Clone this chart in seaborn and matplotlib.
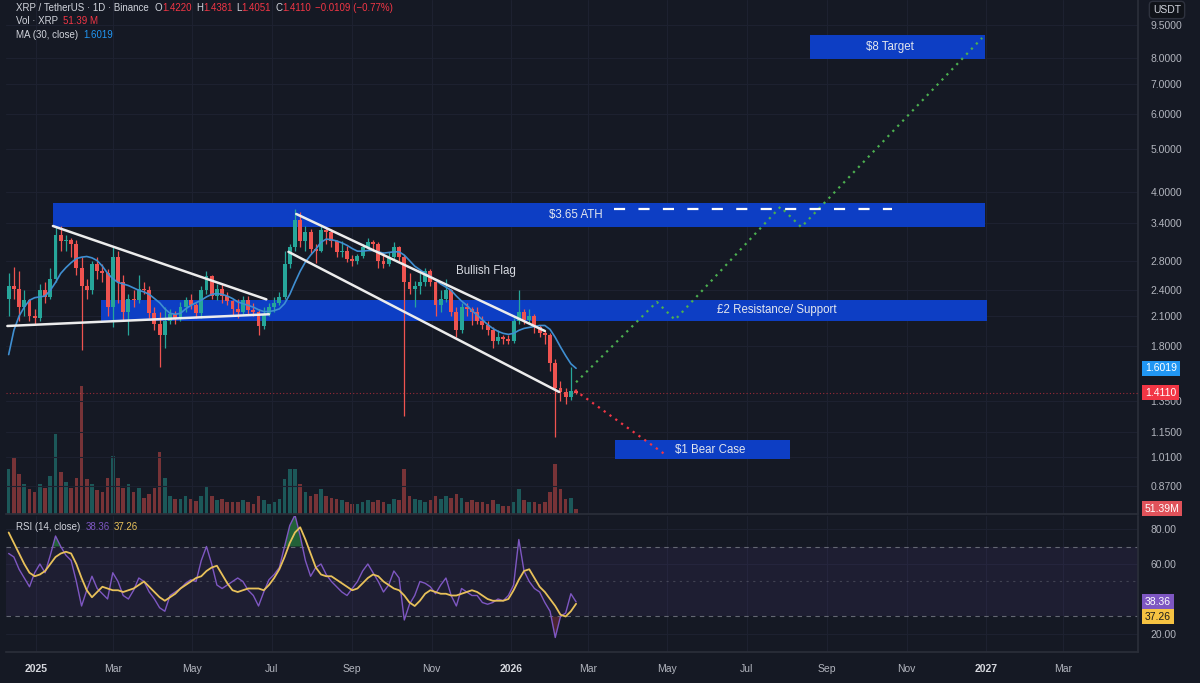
import numpy as np
import pandas as pd
import matplotlib
matplotlib.use('Agg')
import matplotlib.pyplot as plt
import matplotlib.dates as mdates
from matplotlib.patches import Rectangle
from matplotlib.ticker import NullLocator
import seaborn as sns

# ---------------- data ----------------
# 4-day candles, each date is the middle of its block
candle_start = '2024-12-11'
first_open = 2.30

closes = [2.45, 2.42, 2.20, 2.28, 2.10, 2.08, 2.40, 2.32, 2.55, 3.20,
          3.10, 3.12, 3.05, 2.70, 2.45, 2.40, 2.75, 2.65, 2.62, 2.20,
          2.85, 2.50, 2.15, 2.30, 2.28, 2.42, 2.40, 2.13, 2.02, 1.90,
          2.05, 2.12, 2.08, 2.20, 2.28, 2.22, 2.13, 2.40, 2.58, 2.33,
          2.42, 2.33, 2.27, 2.18, 2.15, 2.28, 2.17, 2.15, 1.99, 2.12,
          2.20, 2.25, 2.32, 2.75, 3.00, 3.45, 3.10, 3.25, 2.98, 2.95,
          3.28, 3.25, 3.10, 2.92, 2.95, 2.82, 2.80, 2.86, 3.00, 3.08,
          3.05, 2.80, 2.75, 2.85, 3.00, 2.85, 2.50, 2.42, 2.45, 2.50,
          2.65, 2.50, 2.22, 2.30, 2.40, 2.15, 1.95, 2.20, 2.18, 2.15,
          2.05, 2.00, 1.95, 1.85, 1.88, 1.86, 1.85, 2.05, 2.15, 2.06,
          2.10, 1.98, 1.92, 1.90, 1.65, 1.45, 1.42, 1.38, 1.422, 1.411]

highs = [2.62, 2.71, 2.65, 2.40, 2.30, 2.18, 2.48, 2.50, 2.70, 3.35,
         3.35, 3.20, 3.15, 3.12, 2.85, 2.55, 2.80, 2.85, 2.75, 2.68,
         3.00, 2.95, 2.60, 2.35, 2.40, 2.60, 2.50, 2.45, 2.20, 2.15,
         2.20, 2.18, 2.16, 2.26, 2.32, 2.35, 2.25, 2.45, 2.65, 2.60,
         2.48, 2.48, 2.38, 2.28, 2.30, 2.33, 2.33, 2.25, 2.18, 2.20,
         2.25, 2.32, 2.38, 2.95, 3.05, 3.65, 3.60, 3.35, 3.30, 3.05,
         3.35, 3.33, 3.30, 3.12, 3.10, 3.02, 2.88, 2.90, 3.05, 3.15,
         3.12, 3.08, 2.92, 2.92, 3.08, 3.02, 2.88, 2.62, 2.52, 2.62,
         2.70, 2.68, 2.52, 2.40, 2.55, 2.42, 2.20, 2.25, 2.25, 2.20,
         2.20, 2.10, 2.05, 1.98, 1.95, 1.90, 1.90, 2.08, 2.40, 2.18,
         2.18, 2.12, 2.00, 1.95, 1.92, 1.68, 1.50, 1.45, 1.61, 1.4381]

lows = [2.10, 2.30, 2.05, 2.10, 2.05, 2.02, 2.05, 2.25, 2.30, 2.50,
        2.95, 2.95, 2.85, 2.60, 1.76, 2.30, 2.35, 2.55, 2.50, 2.10,
        1.98, 2.25, 2.05, 1.90, 2.20, 2.25, 2.35, 2.08, 1.95, 1.61,
        1.78, 2.02, 2.02, 2.05, 2.15, 2.18, 2.08, 2.08, 2.35, 2.30,
        2.28, 2.25, 2.22, 2.10, 2.08, 2.12, 2.12, 2.10, 1.90, 1.96,
        2.10, 2.15, 2.22, 2.30, 2.70, 2.95, 3.00, 2.95, 2.90, 2.76,
        2.92, 3.05, 3.00, 2.85, 2.85, 2.78, 2.72, 2.75, 2.84, 2.98,
        2.95, 2.70, 2.70, 2.72, 2.82, 2.80, 1.25, 2.35, 2.20, 2.35,
        2.45, 2.45, 2.10, 2.15, 2.26, 2.10, 1.88, 1.92, 2.10, 2.00,
        2.02, 1.96, 1.90, 1.78, 1.82, 1.82, 1.82, 1.83, 2.02, 2.02,
        2.03, 1.92, 1.88, 1.82, 1.58, 1.12, 1.35, 1.33, 1.36, 1.4051]

# volume in millions of XRP
volumes_m = [450, 570, 400, 300, 250, 220, 300, 260, 380, 800,
             420, 320, 260, 360, 1280, 350, 300, 240, 220, 360,
             580, 360, 260, 300, 220, 260, 160, 200, 260, 620,
             360, 180, 150, 150, 180, 150, 130, 180, 280, 180,
             140, 150, 120, 120, 120, 140, 120, 100, 180, 140,
             100, 120, 150, 350, 450, 450, 300, 220, 180, 200,
             250, 180, 160, 150, 140, 120, 100, 100, 120, 140,
             120, 140, 120, 100, 150, 140, 450, 180, 150, 140,
             120, 140, 180, 150, 180, 160, 200, 160, 120, 140,
             120, 120, 100, 140, 100, 80, 80, 120, 250, 140,
             120, 120, 100, 120, 220, 500, 250, 150, 160, 51.39]

ma30 = [1.72, 1.95, 2.10, 2.20, 2.28, 2.31, 2.32, 2.33, 2.40, 2.50,
        2.62, 2.70, 2.77, 2.83, 2.85, 2.86, 2.84, 2.80, 2.72, 2.62,
        2.55, 2.50, 2.48, 2.46, 2.43, 2.40, 2.38, 2.35, 2.30, 2.25,
        2.18, 2.13, 2.12, 2.13, 2.18, 2.22, 2.25, 2.28, 2.32, 2.35,
        2.36, 2.35, 2.33, 2.30, 2.26, 2.24, 2.22, 2.20, 2.17, 2.15,
        2.15, 2.16, 2.18, 2.24, 2.35, 2.50, 2.65, 2.78, 2.88, 2.97,
        3.08, 3.13, 3.12, 3.10, 3.07, 3.03, 2.98, 2.94, 2.94, 2.95,
        2.95, 2.93, 2.91, 2.92, 2.93, 2.93, 2.88, 2.80, 2.72, 2.67,
        2.62, 2.58, 2.53, 2.48, 2.44, 2.40, 2.33, 2.27, 2.22, 2.16,
        2.11, 2.06, 2.01, 1.97, 1.94, 1.92, 1.91, 1.92, 1.95, 1.97,
        1.98, 1.99, 2.00, 2.00, 1.96, 1.88, 1.79, 1.71, 1.64, 1.6019]

rsi = [66, 64, 57, 52, 47, 55, 60, 55, 65, 76,
       70, 65, 62, 50, 36, 45, 53, 46, 43, 40,
       55, 50, 42, 40, 45, 52, 50, 44, 40, 35,
       33, 42, 44, 46, 49, 51, 50, 62, 70, 60,
       48, 46, 48, 50, 52, 50, 45, 42, 36, 44,
       51, 54, 58, 70, 82, 88, 76, 62, 53, 58,
       60, 54, 50, 47, 44, 42, 46, 50, 56, 60,
       55, 50, 44, 48, 56, 52, 28, 37, 42, 50,
       49, 47, 43, 48, 52, 42, 36, 46, 44, 42,
       42, 38, 37, 38, 40, 39, 42, 48, 74, 56,
       50, 46, 44, 38, 33, 18, 30, 32, 43, 38.36]

rsi_ma = [78, 72, 66, 60, 55, 53, 54, 56, 60, 64,
          66, 67, 66, 60, 52, 45, 41, 44, 47, 46,
          45, 45, 44, 45, 46, 48, 50, 47, 44, 41,
          39, 41, 43, 46, 48, 50, 52, 53, 56, 58,
          59, 54, 49, 45, 44, 45, 46, 46, 46, 45,
          48, 52, 57, 64, 72, 78, 81, 74, 66, 58,
          54, 53, 53, 51, 49, 47, 45, 46, 49, 52,
          54, 53, 50, 48, 46, 45, 42, 38, 36, 39,
          43, 45, 44, 43, 43, 42, 42, 43, 44, 45,
          44, 42, 40, 39, 39, 39, 40, 45, 51, 56,
          57, 52, 47, 44, 40, 36, 31, 30, 33, 37.26]

# ---------------- drawings on the chart ----------------
zone_labels = ['$3.65 ATH', '£2 Resistance/ Support', '$8 Target', '$1 Bear Case']
zone_start = ['2025-01-14', '2025-02-20', '2026-08-19', '2026-03-22']
zone_end = ['2026-12-31', '2027-01-02', '2026-12-31', '2026-08-03']
zone_low = [3.33, 2.05, 7.96, 1.00]
zone_high = [3.77, 2.28, 9.02, 1.105]
zone_label_dates = ['2026-02-20', '2026-07-24', '2026-10-19', '2026-06-03']

trend_dates = [['2025-01-14', '2025-06-27'], ['2024-12-10', '2025-06-29'],
               ['2025-07-20', '2026-01-27'], ['2025-07-14', '2026-02-07']]
trend_prices = [[3.35, 2.29], [1.995, 2.12], [3.565, 1.944], [2.93, 1.417]]

bull_dates = ['2026-02-20', '2026-04-23', '2026-05-07', '2026-07-27', '2026-08-12', '2026-12-29']
bull_prices = [1.49, 2.26, 2.06, 3.70, 3.33, 8.88]
bear_dates = ['2026-02-19', '2026-04-30']
bear_prices = [1.43, 1.022]
ath_dates = ['2026-03-21', '2026-10-21']
ath_price = 3.65
flag_date, flag_price = '2025-12-13', 2.65

last_price = 1.411
# 1.55 and 40.00 sit under the value boxes in the original, so they are left out
price_ticks = [0.87, 1.01, 1.15, 1.35, 1.8, 2.1, 2.4, 2.8, 3.4, 4.0, 5.0, 6.0, 7.0, 8.0, 9.5]
rsi_ticks = [20, 60, 80]
tick_dates = ['2025-01-01', '2025-03-01', '2025-05-01', '2025-07-01', '2025-09-01', '2025-11-01',
              '2026-01-01', '2026-03-01', '2026-05-01', '2026-07-01', '2026-09-01', '2026-11-01',
              '2027-01-01', '2027-03-01']
tick_labels = ['2025', 'Mar', 'May', 'Jul', 'Sep', 'Nov', '2026', 'Mar', 'May', 'Jul', 'Sep',
               'Nov', '2027', 'Mar']

# ---------------- style ----------------
BG = '#151924'
GRID = '#1d2130'
SEP = '#2a2e39'
TXT = '#d1d4dc'
TICK = '#b2b5be'
UP = '#26a69a'
DOWN = '#ef5350'
ZONE = '#0d3ec4'
FIG_W, FIG_H = 1200, 683

sns.set_theme(style='dark', rc={'axes.facecolor': BG, 'figure.facecolor': BG,
                                'axes.edgecolor': SEP, 'text.color': TXT,
                                'xtick.color': TICK, 'ytick.color': TICK})
plt.rcParams['font.family'] = ['Liberation Sans', 'DejaVu Sans']

fig = plt.figure(figsize=(12, 6.83), dpi=100)
left, right = 6, 1138
ax = fig.add_axes([left / FIG_W, 1 - 514 / FIG_H, (right - left) / FIG_W, 514 / FIG_H])
ax_rsi = fig.add_axes([left / FIG_W, 1 - 652 / FIG_H, (right - left) / FIG_W, 136 / FIG_H], sharex=ax)
ax_vol = ax.twinx()
ax.set_zorder(ax_vol.get_zorder() + 1)
ax.patch.set_visible(False)

dates = pd.date_range(candle_start, periods=len(closes), freq='4D')
c = np.array(closes)
o = np.array([first_open] + closes[:-1])
colors = np.where(c >= o, UP, DOWN)

# volume
ax_vol.bar(dates, volumes_m, width=2.8, color=colors, alpha=0.45, lw=0)
ax_vol.set_ylim(0, 5140)
ax_vol.set_yticks([])
ax_vol.grid(False)
for s in ax_vol.spines.values():
    s.set_visible(False)

# price pane
ax.set_yscale('log')
for name, d0, d1, lo, hi, ld in zip(zone_labels, zone_start, zone_end, zone_low, zone_high, zone_label_dates):
    x0 = mdates.date2num(pd.Timestamp(d0))
    x1 = mdates.date2num(pd.Timestamp(d1))
    ax.add_patch(Rectangle((x0, lo), x1 - x0, hi - lo, facecolor=ZONE, edgecolor='none', zorder=2))
    ax.text(pd.Timestamp(ld), np.sqrt(lo * hi), name, ha='center', va='center',
            color='#e3e6ee', fontsize=8.3, zorder=8)

ax.vlines(dates, lows, highs, colors=colors, lw=0.9, zorder=3)
ax.bar(dates, np.maximum(np.abs(c - o), 0.006), bottom=np.minimum(o, c), width=3.0,
       color=colors, lw=0, zorder=4)
sns.lineplot(x=dates, y=ma30, ax=ax, color='#3f8fd2', lw=1.2, zorder=5)

for td, tp in zip(trend_dates, trend_prices):
    ax.plot(pd.to_datetime(td), tp, color='#ececec', lw=1.8, solid_capstyle='round', zorder=6)

ax.plot(pd.to_datetime(bull_dates), bull_prices, color='#4caf50', lw=1.6, ls=(0, (1, 2.2)), zorder=7)
ax.plot(pd.to_datetime(bear_dates), bear_prices, color='#f23645', lw=1.6, ls=(0, (1, 2.2)), zorder=7)
ax.plot(pd.to_datetime(ath_dates), [ath_price, ath_price], color='white', lw=1.6,
        ls=(0, (5, 6)), zorder=7)
ax.axhline(last_price, color='#f23645', lw=0.8, ls=(0, (1, 2)), alpha=0.6, zorder=3)
ax.text(pd.Timestamp(flag_date), flag_price, 'Bullish Flag', ha='center', va='center',
        color='#d8dbe2', fontsize=8.3, zorder=8)

d_left = pd.Timestamp('2025-01-01') + pd.Timedelta(days=(left - 36) / 1.3014)
d_right = pd.Timestamp('2025-01-01') + pd.Timedelta(days=(right - 36) / 1.3014)
ax.set_xlim(d_left, d_right)
ax.set_ylim(0.7527, 10.81)
ax.yaxis.tick_right()
ax.set_yticks(price_ticks)
ax.set_yticklabels([f'{v:.4f}' for v in price_ticks])
ax.yaxis.set_minor_locator(NullLocator())
ax.tick_params(axis='y', length=0, pad=9, labelsize=7.5, colors=TICK)
ax.set_xticks(pd.to_datetime(tick_dates))
ax.tick_params(axis='x', length=0, labelbottom=False)
ax.grid(True, color=GRID, lw=0.8)
ax.set_xlabel('')
ax.set_ylabel('')
for k, s in ax.spines.items():
    s.set_visible(k in ('right', 'bottom'))
    s.set_color(SEP)

# RSI pane
ax_rsi.axhspan(30, 70, color='#7e57c2', alpha=0.09, lw=0)
for lvl, ls, a in [(70, (0, (4, 4)), 0.8), (50, (0, (2, 4)), 0.4), (30, (0, (4, 4)), 0.8)]:
    ax_rsi.axhline(lvl, color='#787b86', lw=0.8, ls=ls, alpha=a)
r = np.array(rsi, dtype=float)
ax_rsi.fill_between(dates, r, 70, where=r > 70, interpolate=True, color='#2e9e4a', alpha=0.55, lw=0)
ax_rsi.fill_between(dates, r, 30, where=r < 30, interpolate=True, color='#b03a48', alpha=0.35, lw=0)
sns.lineplot(x=dates, y=rsi, ax=ax_rsi, color='#7e57c2', lw=1.0)
sns.lineplot(x=dates, y=rsi_ma, ax=ax_rsi, color='#e8c15a', lw=1.3)
ax_rsi.set_ylim(9.71, 87.43)
ax_rsi.yaxis.tick_right()
ax_rsi.set_yticks(rsi_ticks)
ax_rsi.set_yticklabels([f'{v:.2f}' for v in rsi_ticks])
ax_rsi.tick_params(axis='y', length=0, pad=9, labelsize=7.5, colors=TICK)
ax_rsi.set_xticks(pd.to_datetime(tick_dates))
ax_rsi.set_xticklabels(tick_labels)
ax_rsi.tick_params(axis='x', length=0, pad=9, labelsize=7.5, colors=TICK)
for lab in ax_rsi.get_xticklabels():
    if lab.get_text().isdigit():
        lab.set_fontweight('bold')
        lab.set_color('#d6d8de')
ax_rsi.grid(True, color=GRID, lw=0.8)
ax_rsi.set_xlabel('')
ax_rsi.set_ylabel('')
for k, s in ax_rsi.spines.items():
    s.set_visible(k in ('right', 'bottom'))
    s.set_color(SEP)
ax_rsi.set_xlim(d_left, d_right)

# right-hand value boxes
def value_box(axis, trans, y, label, fc, tc, dy=0):
    axis.annotate(label, xy=(1.0, y), xycoords=trans, xytext=(5, dy), textcoords='offset points',
                  ha='left', va='center', fontsize=7.5, color=tc, annotation_clip=False, zorder=20,
                  bbox=dict(boxstyle='square,pad=0.25', fc=fc, ec='none'))

value_box(ax, ax.get_yaxis_transform(), 1.6019, '1.6019', '#2196f3', 'white')
value_box(ax, ax.get_yaxis_transform(), last_price, '1.4110', '#f23645', 'white')
value_box(ax_vol, ax_vol.get_yaxis_transform(), 51.39, '51.39M', '#e0525a', 'white')
value_box(ax_rsi, ax_rsi.get_yaxis_transform(), 38.36, '38.36', '#7e57c2', 'white')
value_box(ax_rsi, ax_rsi.get_yaxis_transform(), 37.26, '37.26', '#f5c242', '#1a1a1a', dy=-9.4)
fig.text(1167 / FIG_W, 1 - 10 / FIG_H, 'USDT', ha='center', va='center', fontsize=7.5, color=TXT,
         bbox=dict(boxstyle='round,pad=0.35', fc='#101319', ec='#2e323e'))

# header legends
def text_run(x_px, y_px, pieces, size=7):
    renderer = fig.canvas.get_renderer()
    x = x_px
    for txt, col, gap in pieces:
        t = fig.text(x / FIG_W, 1 - y_px / FIG_H, txt, color=col, fontsize=size, ha='left', va='center')
        x += t.get_window_extent(renderer=renderer).width + gap

RED = '#f23645'
text_run(16, 8, [('XRP / TetherUS · 1D · Binance', TXT, 6), ('O', TXT, 0), ('1.4220', RED, 4),
                 ('H', TXT, 0), ('1.4381', RED, 4), ('L', TXT, 0), ('1.4051', RED, 4),
                 ('C', TXT, 0), ('1.4110', RED, 4), ('−0.0109 (−0.77%)', RED, 0)])
text_run(16, 21, [('Vol · XRP', TXT, 5), ('51.39 M', RED, 0)])
text_run(16, 35, [('MA (30, close)', TXT, 5), ('1.6019', '#2196f3', 0)])
text_run(16, 527, [('RSI (14, close)', TXT, 5), ('38.36', '#7e57c2', 4), ('37.26', '#e8c15a', 0)])

fig.savefig('out.png', dpi=100, facecolor=BG)
